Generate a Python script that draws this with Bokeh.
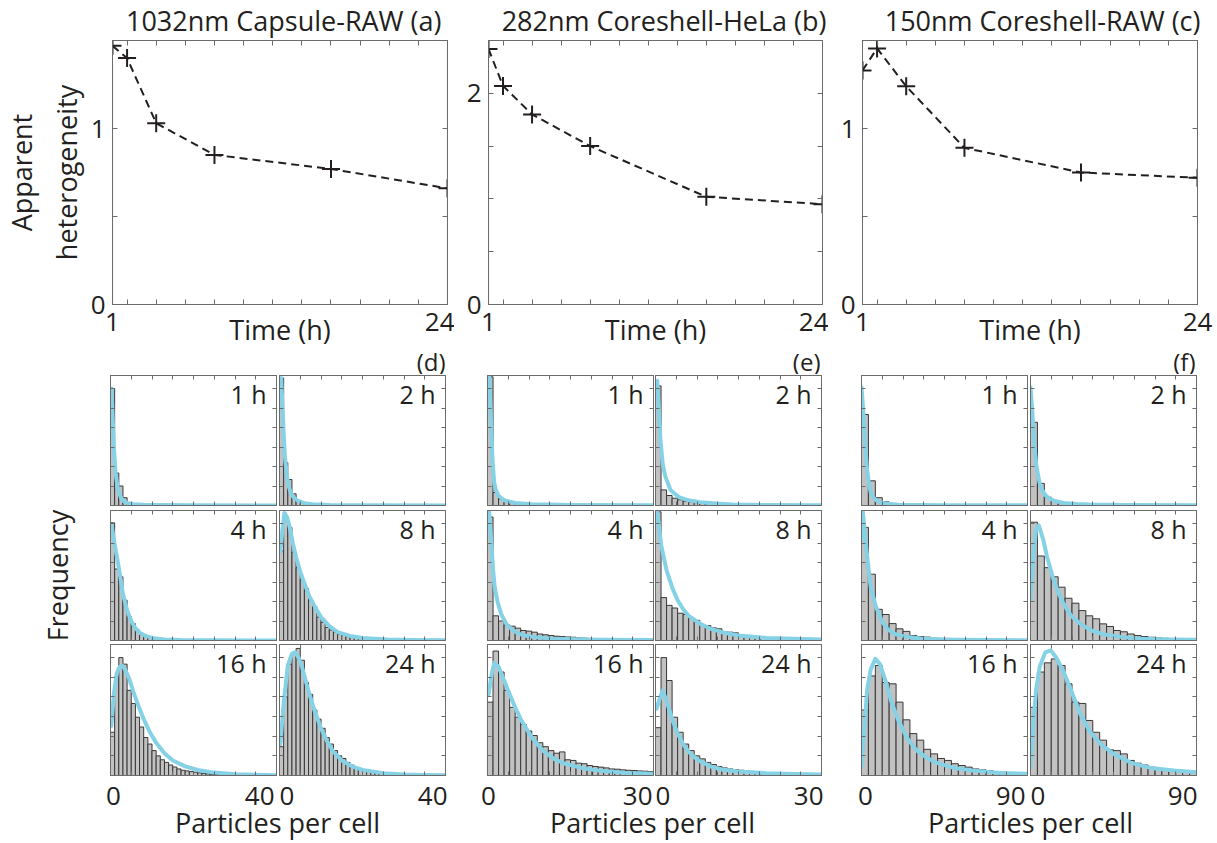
from bokeh.plotting import figure
from bokeh.layouts import row, column
from bokeh.models import Range1d, FixedTicker, LinearAxis, Label, Title
from bokeh.embed import file_html
from bokeh.resources import INLINE

FONT = "Open Sans"
TXT = "#231f20"
AX = "#6b6b6b"
BAR_FILL = "#c2c2c2"
BAR_LINE = "#383838"
FIT = "#85d1e5"
PAGE_W = 1211
TXT_SHIFT = 10   # Label anchor sits ~10 px below the glyph baseline we aim for

# ---------------- top panels: apparent heterogeneity vs time ----------------
times = [1, 2, 4, 8, 16, 24]
het_a = [1.47, 1.40, 1.03, 0.85, 0.77, 0.66]
het_b = [2.42, 2.07, 1.80, 1.50, 1.02, 0.95]
het_c = [1.33, 1.455, 1.24, 0.89, 0.75, 0.72]
time_ticks = [1, 2, 4, 6, 8, 10, 12, 14, 16, 18, 20, 22, 24]
time_shown = [1, 24]
ticks_a = [0, 0.5, 1, 1.5]
ticks_b = [0, 0.5, 1, 1.5, 2, 2.5]
ticks_c = [0, 0.5, 1, 1.5]
shown_a = [0, 1]
shown_b = [0, 2]
shown_c = [0, 1]
titles = ["1032nm Capsule-RAW  (a)", "282nm Coreshell-HeLa (b)", "150nm Coreshell-RAW (c)"]
group_tags = ["(d)", "(e)", "(f)"]

# ---------------- histograms (relative frequency) ----------------
hours = ["1 h", "2 h", "4 h", "8 h", "16 h", "24 h"]
d_bin = 1.0
e_bin = 1.0
f_bin = 3.75
d_xmax = 40
e_xmax = 30
f_xmax = 90
d_xticks = [0, 5, 10, 15, 20, 25, 30, 35, 40]
e_xticks = [0, 3.75, 7.5, 11.25, 15, 18.75, 22.5, 26.25, 30]
f_xticks = [0, 11.25, 22.5, 33.75, 45, 56.25, 67.5, 78.75, 90]
hist_yticks = [0, 0.15, 0.3, 0.45, 0.6, 0.75, 0.9]

# (d) 1032nm Capsule-RAW
d_1h_freq = [0.90, 0.25, 0.15, 0.06, 0.02, 0.01, 0.006, 0.004, 0.002, 0.001]
d_1h_fit_x = [0.25, 0.5, 0.8, 1.2, 1.6, 2.0, 2.6, 3.2, 4.2, 5.5, 8, 12, 20, 40]
d_1h_fit_y = [0.90, 0.70, 0.45, 0.26, 0.16, 0.10, 0.055, 0.032, 0.018, 0.01, 0.005, 0.003, 0.001, 0.0]
d_2h_freq = [0.98, 0.33, 0.20, 0.09, 0.04, 0.02, 0.01, 0.006, 0.004, 0.002, 0.001]
d_2h_fit_x = [0.4, 0.7, 1.0, 1.3, 1.7, 2.2, 2.8, 3.5, 4.5, 6, 8, 12, 20, 40]
d_2h_fit_y = [0.98, 0.78, 0.55, 0.38, 0.25, 0.15, 0.09, 0.06, 0.035, 0.018, 0.009, 0.004, 0.001, 0.0]
d_4h_freq = [0.905, 0.55, 0.49, 0.31, 0.185, 0.13, 0.08, 0.05, 0.033, 0.02, 0.012, 0.008, 0.005, 0.004, 0.003, 0.002, 0.001]
d_4h_fit_x = [0.3, 1, 2, 3, 4, 5, 6, 7, 8.5, 10, 13, 17, 25, 40]
d_4h_fit_y = [0.88, 0.74, 0.56, 0.36, 0.23, 0.15, 0.095, 0.06, 0.035, 0.02, 0.008, 0.003, 0.001, 0.0]
d_8h_freq = [0.69, 0.95, 0.87, 0.68, 0.56, 0.47, 0.40, 0.31, 0.26, 0.18, 0.14, 0.10, 0.08, 0.065, 0.05,
             0.04, 0.03, 0.025, 0.02, 0.015, 0.012, 0.01, 0.007, 0.005, 0.004, 0.003, 0.002, 0.002, 0.001, 0.001]
d_8h_fit_x = [0.2, 0.7, 1.2, 1.8, 2.4, 3.2, 4.0, 5.0, 6.0, 7.2, 8.5, 10, 12, 14, 17, 20, 26, 32, 40]
d_8h_fit_y = [0.68, 0.85, 0.98, 0.95, 0.88, 0.75, 0.64, 0.53, 0.44, 0.34, 0.26, 0.18, 0.11, 0.065, 0.035, 0.02, 0.008, 0.003, 0.001]
d_16h_freq = [0.33, 0.755, 0.90, 0.85, 0.65, 0.55, 0.445, 0.37, 0.29, 0.24, 0.19, 0.15, 0.12, 0.10, 0.08,
              0.065, 0.05, 0.04, 0.035, 0.03, 0.025, 0.02, 0.016, 0.013, 0.01, 0.008, 0.007, 0.006, 0.005,
              0.004, 0.003, 0.003, 0.002, 0.002, 0.001, 0.001]
d_16h_fit_x = [0.2, 0.8, 1.5, 2.2, 2.8, 3.5, 4.5, 5.5, 6.5, 8, 9.5, 11, 13, 15, 18, 21, 25, 30, 35, 40]
d_16h_fit_y = [0.38, 0.62, 0.78, 0.83, 0.84, 0.81, 0.74, 0.64, 0.55, 0.43, 0.33, 0.25, 0.17, 0.115, 0.07, 0.042, 0.022, 0.01, 0.005, 0.002]
d_24h_freq = [0.22, 0.60, 0.85, 0.94, 0.97, 0.88, 0.71, 0.62, 0.50, 0.43, 0.36, 0.29, 0.24, 0.19, 0.15,
              0.13, 0.10, 0.08, 0.06, 0.05, 0.04, 0.03, 0.025, 0.02, 0.015, 0.012, 0.01, 0.008, 0.006,
              0.005, 0.004, 0.003, 0.003, 0.002, 0.002, 0.001]
d_24h_fit_x = [0.2, 1, 2, 3, 3.8, 4.6, 5.5, 6.5, 7.5, 8.5, 10, 11.5, 13, 15, 17.5, 20, 25, 30, 35, 40]
d_24h_fit_y = [0.24, 0.55, 0.84, 0.93, 0.94, 0.90, 0.82, 0.70, 0.59, 0.49, 0.36, 0.26, 0.18, 0.115, 0.07, 0.043, 0.018, 0.008, 0.004, 0.002]

# (e) 282nm Coreshell-HeLa
e_1h_freq = [0.99, 0.10, 0.05, 0.03, 0.02, 0.015, 0.012, 0.01, 0.008, 0.007, 0.006, 0.005, 0.005, 0.004,
             0.004, 0.003, 0.003, 0.002, 0.002, 0.002]
e_1h_fit_x = [0.3, 0.6, 0.9, 1.2, 1.5, 2, 3, 5, 8, 15, 30]
e_1h_fit_y = [1.0, 0.70, 0.35, 0.18, 0.12, 0.075, 0.04, 0.02, 0.01, 0.004, 0.001]
e_2h_freq = [0.92, 0.12, 0.077, 0.056, 0.044, 0.033, 0.027, 0.022, 0.018, 0.015, 0.012, 0.01, 0.008,
             0.006, 0.005, 0.004, 0.003, 0.003, 0.002, 0.002, 0.002, 0.001]
e_2h_fit_x = [0.3, 0.6, 0.9, 1.3, 1.8, 2.7, 4.2, 6, 8, 11, 14, 20, 30]
e_2h_fit_y = [0.96, 0.75, 0.50, 0.32, 0.22, 0.12, 0.065, 0.04, 0.026, 0.015, 0.008, 0.004, 0.001]
e_4h_freq = [0.95, 0.19, 0.15, 0.12, 0.11, 0.095, 0.077, 0.072, 0.064, 0.05, 0.044, 0.038, 0.033, 0.03,
             0.027, 0.025, 0.02, 0.018, 0.015, 0.013, 0.011, 0.01, 0.009, 0.008, 0.007, 0.006, 0.005,
             0.005, 0.004, 0.004]
e_4h_fit_x = [0.3, 0.7, 1.0, 1.3, 1.8, 2.5, 3.5, 4.3, 5.5, 6.7, 8.5, 12, 20, 30]
e_4h_fit_y = [0.99, 0.75, 0.55, 0.41, 0.30, 0.20, 0.12, 0.09, 0.055, 0.038, 0.026, 0.013, 0.006, 0.003]
e_8h_freq = [0.99, 0.33, 0.27, 0.25, 0.21, 0.20, 0.17, 0.155, 0.12, 0.115, 0.097, 0.09, 0.064, 0.064,
             0.059, 0.046, 0.038, 0.033, 0.026, 0.022, 0.018, 0.015, 0.013, 0.011, 0.01, 0.008, 0.007,
             0.006, 0.005, 0.005]
e_8h_fit_x = [0.3, 1, 2, 3, 4, 5, 6, 7, 8, 10, 12, 15, 20, 25, 30]
e_8h_fit_y = [1.0, 0.74, 0.54, 0.41, 0.31, 0.24, 0.19, 0.16, 0.13, 0.09, 0.064, 0.038, 0.02, 0.013, 0.008]
e_16h_freq = [0.56, 0.95, 0.79, 0.65, 0.52, 0.445, 0.39, 0.34, 0.305, 0.25, 0.22, 0.19, 0.17, 0.18, 0.12,
              0.115, 0.094, 0.09, 0.076, 0.069, 0.064, 0.058, 0.05, 0.048, 0.043, 0.04, 0.038, 0.035,
              0.033, 0.03]
e_16h_fit_x = [0.2, 0.7, 1.2, 2, 3, 4, 5, 6, 7, 8, 10, 12, 14, 17, 20, 25, 30]
e_16h_fit_y = [0.62, 0.76, 0.86, 0.83, 0.725, 0.62, 0.52, 0.43, 0.36, 0.29, 0.19, 0.127, 0.09, 0.058, 0.038, 0.02, 0.013]
e_24h_freq = [0.365, 0.90, 0.725, 0.445, 0.33, 0.24, 0.19, 0.15, 0.127, 0.10, 0.084, 0.069, 0.058, 0.05,
              0.045, 0.04, 0.035, 0.03, 0.027, 0.024, 0.02, 0.018, 0.016, 0.014, 0.012, 0.011, 0.01,
              0.009, 0.008, 0.007]
e_24h_fit_x = [0.2, 0.7, 1.3, 2, 3, 4, 5, 6, 7, 8, 10, 12, 15, 20, 25, 30]
e_24h_fit_y = [0.51, 0.58, 0.65, 0.57, 0.43, 0.32, 0.24, 0.18, 0.14, 0.11, 0.069, 0.046, 0.03, 0.018, 0.012, 0.008]

# (f) 150nm Coreshell-RAW
f_1h_freq = [0.70, 0.19, 0.06, 0.028, 0.012, 0.006, 0.004, 0.002, 0.002, 0.001]
f_1h_fit_x = [0, 1, 2, 3, 4, 5, 6.5, 8, 10, 13, 20, 30, 45, 90]
f_1h_fit_y = [0.91, 0.72, 0.47, 0.28, 0.17, 0.10, 0.06, 0.04, 0.025, 0.015, 0.006, 0.003, 0.002, 0.001]
f_2h_freq = [0.64, 0.17, 0.064, 0.033, 0.015, 0.008, 0.005, 0.003, 0.002, 0.001]
f_2h_fit_x = [0, 1, 2, 3, 3.6, 5, 6.3, 8, 9.8, 13, 18, 25, 32, 50, 90]
f_2h_fit_y = [0.91, 0.72, 0.48, 0.33, 0.27, 0.17, 0.12, 0.08, 0.058, 0.035, 0.02, 0.012, 0.008, 0.004, 0.001]
f_4h_freq = [0.87, 0.51, 0.24, 0.20, 0.13, 0.09, 0.07, 0.038, 0.03, 0.026, 0.018, 0.013, 0.01, 0.008,
             0.006, 0.005, 0.004, 0.003, 0.003, 0.002]
f_4h_fit_x = [0, 0.7, 1.5, 3.1, 5, 7.6, 11, 14, 18, 24, 33, 50, 70, 90]
f_4h_fit_y = [0.78, 0.99, 0.88, 0.64, 0.41, 0.27, 0.15, 0.09, 0.05, 0.028, 0.013, 0.006, 0.003, 0.002]
f_8h_freq = [0.91, 0.65, 0.56, 0.49, 0.41, 0.325, 0.287, 0.23, 0.19, 0.167, 0.128, 0.108, 0.077, 0.067,
             0.05, 0.038, 0.03, 0.025, 0.02, 0.017, 0.015, 0.012, 0.01, 0.008]
f_8h_fit_x = [0, 1.5, 3, 4.5, 7, 9, 12, 15, 18, 22, 27, 33, 40, 50, 60, 75, 90]
f_8h_fit_y = [0.31, 0.64, 0.85, 0.885, 0.77, 0.64, 0.49, 0.37, 0.28, 0.19, 0.128, 0.077, 0.046, 0.026, 0.013, 0.008, 0.005]
f_16h_freq = [0.50, 0.76, 0.84, 0.71, 0.70, 0.56, 0.425, 0.32, 0.27, 0.20, 0.165, 0.13, 0.115, 0.09,
              0.076, 0.064, 0.05, 0.043, 0.038, 0.03, 0.025, 0.02, 0.016, 0.013]
f_16h_fit_x = [0, 1.5, 3, 5, 7.5, 10, 13, 16, 20, 25, 30, 35, 40, 50, 60, 75, 90]
f_16h_fit_y = [0.064, 0.34, 0.65, 0.81, 0.89, 0.85, 0.725, 0.57, 0.42, 0.28, 0.19, 0.14, 0.10, 0.058, 0.038, 0.02, 0.013]
f_24h_freq = [0.52, 0.79, 0.86, 0.89, 0.84, 0.70, 0.56, 0.55, 0.42, 0.33, 0.27, 0.196, 0.19, 0.165,
              0.115, 0.094, 0.08, 0.064, 0.05, 0.043, 0.038, 0.03, 0.025, 0.02]
f_24h_fit_x = [0, 1.5, 3, 5, 8, 11, 14, 18, 22, 27, 32, 38, 45, 55, 65, 78, 90]
f_24h_fit_y = [0.064, 0.39, 0.65, 0.83, 0.94, 0.955, 0.90, 0.79, 0.65, 0.47, 0.34, 0.24, 0.165, 0.094, 0.058, 0.038, 0.025]


# ---------------- helpers ----------------
def style_axis(ax, ticks, shown=None, tick_len=5, standoff=7):
    ax.ticker = FixedTicker(ticks=ticks, minor_ticks=[])
    ax.major_tick_in = tick_len
    ax.major_tick_out = 0
    ax.minor_tick_in = 0
    ax.minor_tick_out = 0
    ax.axis_line_color = AX
    ax.major_tick_line_color = AX
    ax.major_label_text_font = FONT
    ax.major_label_text_font_size = "26px"
    ax.major_label_text_color = TXT
    ax.axis_label_text_font = FONT
    ax.axis_label_text_font_style = "normal"
    ax.axis_label_text_font_size = "27px"
    ax.axis_label_text_color = TXT
    shown = shown or []
    ax.major_label_overrides = {t: (str(t) if t in shown else "") for t in ticks}
    ax.major_label_standoff = standoff if shown else 0


def add_label(p, text, x, base_y, align="center", size="26px"):
    # base_y: wanted glyph baseline, in pixels above the strip's bottom edge
    p.add_layout(Label(x=x, y=base_y + TXT_SHIFT, text=text, text_align=align,
                       text_baseline="alphabetic", text_font=FONT, text_font_size=size,
                       text_color=TXT))


def base_fig(fw, fh, xr, yr, bl, br, bt, bb):
    p = figure(frame_width=fw, frame_height=fh, x_range=xr, y_range=yr,
               toolbar_location=None, output_backend="svg",
               min_border_left=bl, min_border_right=br, min_border_top=bt, min_border_bottom=bb)
    p.grid.visible = False
    p.outline_line_color = AX
    p.background_fill_color = "white"
    p.border_fill_color = "white"
    return p


def strip_fig(h):
    s = figure(frame_width=PAGE_W, frame_height=h, x_range=Range1d(0, PAGE_W), y_range=Range1d(0, h),
               toolbar_location=None, output_backend="svg", min_border=0,
               x_axis_location=None, y_axis_location=None)
    s.grid.visible = False
    s.outline_line_color = None
    s.background_fill_color = "white"
    s.border_fill_color = "white"
    return s


def top_fig(het, ymax, yticks, shown, tag, fw, bl, br):
    p = base_fig(fw, 264, Range1d(1, 24), Range1d(0, ymax), bl, br, 1, 70)
    top_ax = LinearAxis()
    right_ax = LinearAxis()
    p.add_layout(top_ax, "above")
    p.add_layout(right_ax, "right")
    bottom_ax = p.below[0]
    style_axis(bottom_ax, time_ticks, time_shown, standoff=8)
    bottom_ax.major_label_text_align = "right"
    bottom_ax.axis_label = "Time (h)"
    bottom_ax.axis_label_standoff = -23
    style_axis(top_ax, time_ticks)
    style_axis(p.left[0], yticks, shown)
    style_axis(right_ax, yticks)
    p.add_layout(Title(text=tag, align="right", offset=2, standoff=-15, text_font=FONT,
                       text_font_size="24px", text_font_style="normal", text_color=TXT), "below")
    p.line(times, het, line_color=TXT, line_width=2, line_dash="8 5")
    p.scatter(times, het, marker="cross", size=18, line_color=TXT, line_width=2)
    return p


def hist_fig(freq, bw, fx, fy, xmax, xticks, hour, fh, bl, br, bt, bb):
    p = base_fig(166, fh, Range1d(0, xmax), Range1d(0, 1), bl, br, bt, bb)
    top_ax = LinearAxis()
    right_ax = LinearAxis()
    p.add_layout(top_ax, "above")
    p.add_layout(right_ax, "right")
    for ax in (p.below[0], top_ax):
        style_axis(ax, xticks, tick_len=4)
    for ax in (p.left[0], right_ax):
        style_axis(ax, hist_yticks, tick_len=4)
    lefts = [i * bw for i in range(len(freq))]
    rights = [(i + 1) * bw for i in range(len(freq))]
    p.quad(left=lefts, right=rights, bottom=0, top=freq, fill_color=BAR_FILL,
           line_color=BAR_LINE, line_width=1)
    p.line(fx, fy, line_color=FIT, line_width=4, line_join="round", line_cap="round")
    p.add_layout(Label(x=xmax, y=fh - 28 + TXT_SHIFT, y_units="screen", x_offset=-10, text=hour,
                       text_align="right", text_baseline="alphabetic", text_font=FONT,
                       text_font_size="25px", text_color=TXT))
    return p


# ---------------- strip with panel titles (page y 0..39) ----------------
strip_t = strip_fig(39)
for txt, xr in zip(titles, [448, 826, 1200]):
    add_label(strip_t, txt, xr, 39 - 30, align="right", size="27px")

# ---------------- top row (page y 39..374) ----------------
fa = top_fig(het_a, 1.5, ticks_a, shown_a, group_tags[0], 335, 110, 7)
fb = top_fig(het_b, 2.5, ticks_b, shown_b, group_tags[1], 334, 34, 6)
fc = top_fig(het_c, 1.5, ticks_c, shown_c, group_tags[2], 335, 34, 16)
fa.left[0].axis_label = "Apparent\nheterogeneity"
fa.left[0].axis_label_standoff = 3

# ---------------- histogram grid ----------------
groups = [
    (d_bin, d_xmax, d_xticks, [
        (d_1h_freq, d_1h_fit_x, d_1h_fit_y), (d_2h_freq, d_2h_fit_x, d_2h_fit_y),
        (d_4h_freq, d_4h_fit_x, d_4h_fit_y), (d_8h_freq, d_8h_fit_x, d_8h_fit_y),
        (d_16h_freq, d_16h_fit_x, d_16h_fit_y), (d_24h_freq, d_24h_fit_x, d_24h_fit_y)]),
    (e_bin, e_xmax, e_xticks, [
        (e_1h_freq, e_1h_fit_x, e_1h_fit_y), (e_2h_freq, e_2h_fit_x, e_2h_fit_y),
        (e_4h_freq, e_4h_fit_x, e_4h_fit_y), (e_8h_freq, e_8h_fit_x, e_8h_fit_y),
        (e_16h_freq, e_16h_fit_x, e_16h_fit_y), (e_24h_freq, e_24h_fit_x, e_24h_fit_y)]),
    (f_bin, f_xmax, f_xticks, [
        (f_1h_freq, f_1h_fit_x, f_1h_fit_y), (f_2h_freq, f_2h_fit_x, f_2h_fit_y),
        (f_4h_freq, f_4h_fit_x, f_4h_fit_y), (f_8h_freq, f_8h_fit_x, f_8h_fit_y),
        (f_16h_freq, f_16h_fit_x, f_16h_fit_y), (f_24h_freq, f_24h_fit_x, f_24h_fit_y)]),
]
col_borders = [(110, 1), (2, 20), (22, 1), (1, 19), (21, 2), (1, 15)]
row_geo = [(130, 1, 2), (130, 3, 2), (131, 2, 1)]   # frame height, top border, bottom border

rows = []
for r, (fh, bt, bb) in enumerate(row_geo):
    figs = []
    for g, (bw, xmax, xticks, panels) in enumerate(groups):
        for c in range(2):
            k = 2 * r + c
            freq, fx, fy = panels[k]
            bl, br = col_borders[2 * g + c]
            p = hist_fig(freq, bw, fx, fy, xmax, xticks, hours[k], fh, bl, br, bt, bb)
            if r == 1 and g == 0 and c == 0:
                p.left[0].axis_label = "Frequency"
                p.left[0].axis_label_standoff = 35
            figs.append(p)
    rows.append(row(*figs))

# ---------------- bottom strip: histogram x tick labels and x titles (page y 776..841) ----------------
strip_c = strip_fig(65)
xmaxes = [d_xmax, d_xmax, e_xmax, e_xmax, f_xmax, f_xmax]
zero_pos = [(113, "center"), (279, "left"), (488, "center"), (655, "left"), (865, "center"), (1030, "left")]
max_right = [274, 447, 652, 823, 1025, 1197]
for (zx, za), mr, xm in zip(zero_pos, max_right, xmaxes):
    add_label(strip_c, "0", zx, 841 - 805, align=za)
    add_label(strip_c, str(xm), mr, 841 - 805, align="right")
for cx in (277, 652, 1030):
    add_label(strip_c, "Particles per cell", cx, 841 - 832, size="27px")

layout = column(strip_t, row(fa, fb, fc), *rows, strip_c)
open("out.html", "w").write(file_html(layout, INLINE))
